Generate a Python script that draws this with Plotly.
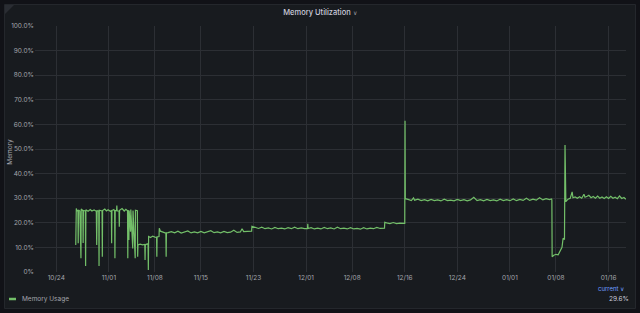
import plotly.graph_objects as go

# ---- data ----
times = [
    "2023-10-26 23:00", "2023-10-27 01:00", "2023-10-27 04:00", "2023-10-27 07:00", "2023-10-27 08:00", "2023-10-27 09:00", "2023-10-27 14:00", "2023-10-27 18:00",
    "2023-10-27 19:00", "2023-10-28 01:00", "2023-10-28 02:00", "2023-10-28 03:00", "2023-10-28 10:00", "2023-10-28 11:00", "2023-10-28 12:00", "2023-10-28 20:00",
    "2023-10-29 04:00", "2023-10-29 10:00", "2023-10-29 18:00", "2023-10-30 02:00", "2023-10-30 03:30", "2023-10-30 05:00", "2023-10-30 11:00", "2023-10-30 12:00",
    "2023-10-30 13:00", "2023-10-30 23:00", "2023-10-31 00:00", "2023-10-31 01:00", "2023-10-31 09:00", "2023-10-31 15:00", "2023-10-31 21:00", "2023-11-01 05:00",
    "2023-11-01 09:00", "2023-11-01 10:00", "2023-11-01 11:00", "2023-11-01 18:00", "2023-11-01 21:00", "2023-11-01 22:00", "2023-11-01 23:00", "2023-11-02 04:00",
    "2023-11-02 05:00", "2023-11-02 06:00", "2023-11-02 13:00", "2023-11-02 14:00", "2023-11-02 15:00", "2023-11-03 00:00", "2023-11-03 08:00", "2023-11-03 14:00",
    "2023-11-03 20:00", "2023-11-03 21:00", "2023-11-03 22:00", "2023-11-04 01:00", "2023-11-04 02:00", "2023-11-04 07:00", "2023-11-04 08:00", "2023-11-04 15:00",
    "2023-11-04 16:00", "2023-11-05 00:00", "2023-11-05 01:00", "2023-11-05 08:00", "2023-11-05 09:00", "2023-11-05 10:00",
    "2023-11-05 18:00", "2023-11-06 03:00", "2023-11-06 11:00", "2023-11-06 12:00", "2023-11-06 13:00", "2023-11-06 20:00", "2023-11-06 23:00", "2023-11-07 00:00",
    "2023-11-07 01:00", "2023-11-07 08:00", "2023-11-07 16:00", "2023-11-08 00:00", "2023-11-08 06:00", "2023-11-08 07:00", "2023-11-08 08:00", "2023-11-08 15:00",
    "2023-11-08 16:00", "2023-11-08 20:00", "2023-11-09 04:00", "2023-11-09 12:00", "2023-11-09 16:00", "2023-11-09 17:00", "2023-11-09 18:00", "2023-11-10 00:00",
    "2023-11-10 12:00", "2023-11-11 00:00", "2023-11-11 12:00", "2023-11-12 00:00", "2023-11-12 12:00", "2023-11-13 00:00", "2023-11-13 12:00", "2023-11-14 00:00",
    "2023-11-14 12:00", "2023-11-15 00:00", "2023-11-15 12:00", "2023-11-16 00:00", "2023-11-16 12:00", "2023-11-17 00:00", "2023-11-17 12:00", "2023-11-18 00:00",
    "2023-11-18 12:00", "2023-11-19 00:00", "2023-11-19 12:00", "2023-11-20 00:00", "2023-11-20 12:00", "2023-11-21 00:00", "2023-11-21 06:00", "2023-11-21 12:00",
    "2023-11-22 00:00", "2023-11-22 12:00", "2023-11-22 17:00",
    "2023-11-22 18:00", "2023-11-23 06:00", "2023-11-23 18:00", "2023-11-24 06:00", "2023-11-24 18:00", "2023-11-25 06:00", "2023-11-25 18:00", "2023-11-26 06:00",
    "2023-11-26 18:00", "2023-11-27 06:00", "2023-11-27 18:00", "2023-11-28 06:00", "2023-11-28 18:00", "2023-11-29 06:00", "2023-11-29 18:00", "2023-11-30 06:00",
    "2023-11-30 18:00", "2023-12-01 05:00", "2023-12-01 06:00", "2023-12-01 07:00", "2023-12-01 18:00", "2023-12-02 06:00", "2023-12-02 18:00", "2023-12-03 06:00",
    "2023-12-03 18:00", "2023-12-04 06:00", "2023-12-04 18:00", "2023-12-05 06:00", "2023-12-05 18:00", "2023-12-06 06:00", "2023-12-06 18:00", "2023-12-07 06:00",
    "2023-12-07 18:00", "2023-12-08 06:00", "2023-12-08 18:00", "2023-12-09 06:00", "2023-12-09 18:00", "2023-12-10 06:00", "2023-12-10 18:00", "2023-12-11 06:00",
    "2023-12-11 18:00", "2023-12-12 06:00", "2023-12-12 22:00",
    "2023-12-12 23:00", "2023-12-13 06:00", "2023-12-13 18:00", "2023-12-14 06:00", "2023-12-14 18:00", "2023-12-15 06:00", "2023-12-15 18:00", "2023-12-16 00:00",
    "2023-12-16 01:00", "2023-12-16 02:00", "2023-12-16 12:00", "2023-12-17 00:00", "2023-12-17 08:00", "2023-12-17 12:00", "2023-12-18 00:00", "2023-12-18 12:00",
    "2023-12-19 00:00", "2023-12-19 12:00", "2023-12-20 00:00", "2023-12-20 12:00", "2023-12-21 00:00", "2023-12-21 12:00", "2023-12-22 00:00", "2023-12-22 12:00",
    "2023-12-23 00:00", "2023-12-23 12:00", "2023-12-24 00:00", "2023-12-24 12:00", "2023-12-25 00:00", "2023-12-25 12:00", "2023-12-26 00:00", "2023-12-26 12:00",
    "2023-12-27 00:00", "2023-12-27 12:00", "2023-12-28 00:00", "2023-12-28 12:00", "2023-12-29 00:00", "2023-12-29 12:00", "2023-12-30 00:00", "2023-12-30 12:00",
    "2023-12-31 00:00", "2023-12-31 12:00", "2024-01-01 00:00", "2024-01-01 12:00", "2024-01-02 00:00", "2024-01-02 12:00", "2024-01-03 00:00", "2024-01-03 12:00",
    "2024-01-04 00:00", "2024-01-04 12:00", "2024-01-05 00:00", "2024-01-05 12:00", "2024-01-06 00:00", "2024-01-06 12:00", "2024-01-07 00:00", "2024-01-07 08:00",
    "2024-01-07 09:00", "2024-01-07 10:00", "2024-01-07 16:00", "2024-01-08 00:00", "2024-01-08 08:00", "2024-01-08 12:00", "2024-01-08 16:00", "2024-01-08 22:00",
    "2024-01-09 02:00", "2024-01-09 07:00", "2024-01-09 09:00", "2024-01-09 12:00",
    "2024-01-09 20:00", "2024-01-10 04:00", "2024-01-10 11:00", "2024-01-10 14:00", "2024-01-10 22:00", "2024-01-11 06:00", "2024-01-11 14:00", "2024-01-11 22:00",
    "2024-01-12 06:00", "2024-01-12 10:00", "2024-01-12 18:00", "2024-01-13 00:00", "2024-01-13 08:00", "2024-01-13 16:00", "2024-01-14 00:00", "2024-01-14 08:00",
    "2024-01-14 16:00", "2024-01-15 00:00", "2024-01-15 08:00", "2024-01-15 16:00", "2024-01-16 00:00", "2024-01-16 08:00", "2024-01-16 16:00", "2024-01-17 00:00",
    "2024-01-17 08:00", "2024-01-17 16:00", "2024-01-18 00:00", "2024-01-18 08:00", "2024-01-18 15:00",
]

mem_pct = [
    11.0, 25.8, 24.9, 25.0, 11.7, 25.2, 24.8, 5.6,
    25.6, 24.9, 11.8, 25.0, 24.8, 2.4, 25.3, 24.7,
    25.4, 24.8, 25.2, 24.7, 11.0, 24.9, 24.8, 2.4,
    25.1, 24.8, 6.2, 25.0, 25.6, 24.8, 25.3, 24.7,
    24.9, 11.7, 25.0, 25.4, 24.8, 5.6, 25.0, 24.9,
    27.0, 24.9, 24.8, 18.4, 25.1, 25.8, 24.8, 25.5,
    24.9, 5.6, 25.2, 13.0, 25.0, 16.4, 25.4, 9.6,
    25.0, 5.6, 25.1, 24.9, 6.2, 11.0,
    11.3, 11.0, 11.2, 4.9, 11.0, 11.5, 11.0, 0.8,
    14.4, 14.0, 14.6, 14.2, 14.1, 6.2, 14.3, 14.4,
    17.8, 16.6, 16.2, 15.9, 15.8, 6.2, 15.9, 16.0,
    16.4, 15.9, 16.6, 15.8, 16.2, 16.7, 15.9, 16.3,
    15.9, 16.5, 15.9, 16.2, 16.8, 16.0, 16.3, 15.9,
    16.5, 16.0, 16.2, 17.0, 16.1, 16.3, 17.6, 16.4,
    16.5, 16.6, 16.6,
    18.6, 18.0, 17.7, 18.2, 17.6, 17.9, 17.5, 18.1,
    17.6, 17.8, 17.5, 18.0, 17.6, 18.2, 17.6, 17.9,
    17.6, 17.7, 19.6, 17.7, 18.0, 17.5, 17.8, 17.5,
    18.1, 17.6, 17.9, 17.5, 18.2, 17.6, 17.8, 17.5,
    18.0, 17.5, 17.7, 17.4, 18.0, 17.5, 17.8, 17.6,
    18.1, 17.7, 17.8,
    20.2, 20.0, 19.7, 20.1, 19.7, 19.9, 19.7, 19.8,
    61.5, 29.8, 29.5, 29.0, 30.1, 29.2, 29.6, 29.0,
    29.4, 28.9, 29.5, 29.0, 29.3, 28.9, 29.6, 29.0,
    29.2, 28.9, 29.5, 29.0, 29.4, 28.9, 29.3, 30.4,
    29.0, 29.4, 28.9, 29.5, 29.0, 29.3, 28.9, 29.6,
    29.0, 29.4, 29.0, 29.7, 29.0, 29.5, 29.1, 30.0,
    29.1, 29.6, 29.2, 30.2, 29.3, 29.8, 29.4, 29.7,
    29.2, 6.2, 6.8, 7.2, 7.0, 7.8, 8.3, 10.0,
    13.7, 13.2, 51.6, 28.6,
    29.6, 30.0, 32.6, 30.2, 30.5, 30.0, 30.6, 30.0,
    31.6, 30.4, 30.8, 31.2, 30.2, 30.7, 30.0, 30.9,
    30.0, 30.5, 29.9, 30.6, 29.9, 30.8, 30.0, 30.4,
    29.8, 30.9, 29.9, 30.3, 29.6,
]

x_tick_dates = ["2023-10-24", "2023-11-01", "2023-11-08", "2023-11-15", "2023-11-23", "2023-12-01",
                "2023-12-08", "2023-12-16", "2023-12-24", "2024-01-01", "2024-01-08", "2024-01-16"]
x_tick_labels = ["10/24", "11/01", "11/08", "11/15", "11/23", "12/01",
                 "12/08", "12/16", "12/24", "01/01", "01/08", "01/16"]
y_tick_vals = [0, 10, 20, 30, 40, 50, 60, 70, 80, 90, 100]
y_tick_labels = ["0%", "10.0%", "20.0%", "30.0%", "40.0%", "50.0%",
                 "60.0%", "70.0%", "80.0%", "90.0%", "100.0%"]
series_name = "Memory Usage"
current_value = "29.6%"

# ---- styling ----
FONT = "Inter"
PAGE_BG = "#111217"
PANEL_BG = "#181b1f"
GRID = "#2c2f34"
TICK_COL = "#a3a5ac"
TEXT_COL = "#ccccdc"
GREEN = "#73bf69"

W, H = 640, 313
ML, MR, MT, MB = 35, 14, 26, 41
PW, PH = W - ML - MR, H - MT - MB


def px_x(px):
    return (px - ML) / PW


def px_y(py):
    return (H - MB - py) / PH


fig = go.Figure()
fig.add_trace(go.Scatter(
    x=times, y=mem_pct, mode="lines", name=series_name,
    line=dict(color=GREEN, width=1.2), showlegend=False,
))

fig.update_layout(
    width=W, height=H,
    margin=dict(l=ML, r=MR, t=MT, b=MB, pad=0),
    paper_bgcolor=PAGE_BG,
    plot_bgcolor="rgba(0,0,0,0)",
    font=dict(family=FONT, color=TICK_COL, size=6.5),
    title=dict(text="Memory Utilization <span style='font-size:6px;color:#9a9ca4'>∨</span>",
               x=0.5, xref="container", xanchor="center",
               y=1 - 12 / H, yref="container", yanchor="middle",
               font=dict(family=FONT, size=7.5, color=TEXT_COL, weight=500)),
    xaxis=dict(
        type="date",
        range=["2023-10-20 18:15", "2024-01-18 15:35"],
        tickvals=x_tick_dates, ticktext=x_tick_labels,
        showgrid=True, gridcolor=GRID, gridwidth=1,
        zeroline=False, showline=False, ticks="",
        tickfont=dict(size=6.5, color=TICK_COL, family=FONT),
        automargin=False, fixedrange=True,
    ),
    yaxis=dict(
        range=[0, 100],
        tickvals=y_tick_vals, ticktext=y_tick_labels,
        showgrid=True, gridcolor=GRID, gridwidth=1,
        zeroline=False, showline=False, ticks="",
        tickfont=dict(size=6.5, color=TICK_COL, family=FONT),
        automargin=False, fixedrange=True,
    ),
    showlegend=False,
)

# panel background and corner mark
fig.add_shape(type="rect", xref="paper", yref="paper",
              x0=px_x(4.5), x1=px_x(635.5), y0=px_y(308.5), y1=px_y(4.5),
              fillcolor=PANEL_BG, line=dict(color="#24272c", width=1), layer="below")
fig.add_shape(type="path", xref="paper", yref="paper",
              path=f"M {px_x(5)},{px_y(5)} L {px_x(14)},{px_y(5)} L {px_x(5)},{px_y(14)} Z",
              fillcolor="#2a2d33", line=dict(width=0), layer="below")

# y axis title
fig.add_annotation(text="Memory", xref="paper", yref="paper",
                   x=px_x(10), y=px_y(151.7), textangle=-90, showarrow=False,
                   xanchor="center", yanchor="middle",
                   font=dict(family=FONT, size=6.5, color=TICK_COL))

# legend
fig.add_shape(type="line", xref="paper", yref="paper",
              x0=px_x(9), x1=px_x(16), y0=px_y(299), y1=px_y(299),
              line=dict(color=GREEN, width=2.5))
fig.add_annotation(text=series_name, xref="paper", yref="paper",
                   x=px_x(19.5), y=px_y(299), showarrow=False,
                   xanchor="left", yanchor="middle",
                   font=dict(family=FONT, size=6.5, color=TICK_COL))
fig.add_annotation(text="current ∨", xref="paper", yref="paper",
                   x=px_x(626), y=px_y(288.7), showarrow=False,
                   xanchor="right", yanchor="middle",
                   font=dict(family=FONT, size=6, color="#6e9fff"))
fig.add_annotation(text=current_value, xref="paper", yref="paper",
                   x=px_x(631), y=px_y(298.7), showarrow=False,
                   xanchor="right", yanchor="middle",
                   font=dict(family=FONT, size=6.5, color=TEXT_COL))

fig.write_html("out.html", config={"displayModeBar": False})
